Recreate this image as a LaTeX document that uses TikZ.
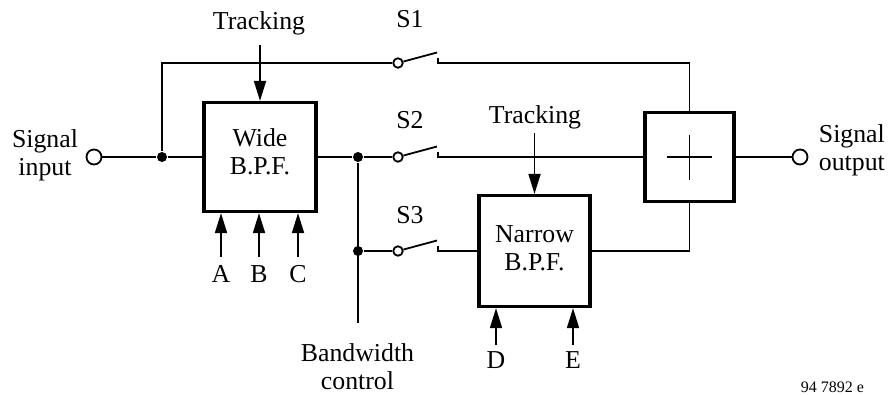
\documentclass[tikz,border=0pt]{standalone}
\usepackage{fontspec}
\setmainfont{Liberation Serif}
\usetikzlibrary{arrows.meta}
\usetikzlibrary{calc}

\begin{document}
\begin{tikzpicture}[x=1pt, y=-1pt, line width=1.8pt,
        txt/.style={inner sep=0pt, align=center, font=\fontsize{25.8}{28}\selectfont},
        blk/.style={draw, line width=3.2pt, inner sep=0pt},
        term/.style={circle, draw, fill=white, inner sep=0pt, minimum size=15pt},
        sw/.style={circle, draw, fill=white, inner sep=0pt, minimum size=9.5pt},
        junc/.style={circle, fill, inner sep=0pt, minimum size=10pt},
        arr/.style={-{Triangle[length=20pt, width=12pt]}}]
        \useasboundingbox(0,0) rectangle (890,394);
        \node[txt] (inlbl) at (45,155){Signal\\input};
        \node[term] (in) at (94,157){};
        \node[junc] (j1) at (162,157){};
        \node[blk, minimum width=112pt, minimum height=109pt] (wide) at (260,157){};
        \node[txt] (widetxt) at ($(wide)+(0,-5)$){Wide\\B.P.F.};
        \node[junc] (j2) at (358,157){};
        \node[junc] (j3) at (358,251){};
        \coordinate (bw) at (358,323);
        \node[txt] (bwlbl) at (357.5,367){Bandwidth\\control};
        \node[blk, minimum width=111pt, minimum height=111pt] (narrow) at (534.5,251){};
        \node[txt] (narrowtxt) at ($(narrow)+(0,-3)$){Narrow\\B.P.F.};
        \node[blk, minimum width=89pt, minimum height=89pt] (sum) at (689.5,157){};
        \node[term] (out) at (800,157){};
        \node[txt, anchor=west] (outlbl) at (818,150){Signal\\output};
        \foreach \s/\y/\b in {1/63/27, 2/157/128, 3/251/223}{
            \node[sw] (sw\s) at (398,\y){};
            \coordinate (b\s) at (437,\y-10.5);
            \coordinate (t\s) at (438,\y-5);
            \coordinate (c\s) at (438,\y);
            \draw(sw\s)--(b\s);
            \node[txt, anchor=base] (slbl\s) at (410,\b){S\s};
        }
        \draw(in)--(j1)--(wide.west);
        \draw(j1)|-(sw1);
        \draw(wide.east)--(j2)--(sw2);
        \draw(j2)--(bw);
        \draw(j3)--(sw3);
        \draw(t1)--(c1)-|(sum.north);
        \draw(t2)--(c2)--(sum.west);
        \draw(t3)--(c3)--(narrow.west);
        \draw(narrow.east)-|(sum.south);
        \draw(sum.east)--(out);
        \draw($(sum)+(-22.5,0)$)--($(sum)+(22.5,0)$);
        \draw($(sum)+(0,-22.5)$)--($(sum)+(0,22.5)$);
        \node[txt, anchor=base] (trk1) at (259,29){Tracking};
        \coordinate (trk1s) at ($(wide.north)+(0,-56)$);
        \draw[arr](trk1s)--(wide.north);
        \node[txt, anchor=base] (trk2) at (535,123){Tracking};
        \coordinate (trk2s) at ($(narrow.north)+(0,-61)$);
        \draw[arr](trk2s)--(narrow.north);
        \foreach \l/\x in {A/221, B/259, C/298}{
            \node[txt, anchor=base] (lbl\l) at (\x,282){\l};
            \coordinate (ar\l) at (\x,257);
            \draw[arr](ar\l)--(ar\l |- wide.south);
        }
        \foreach \l/\x in {D/496, E/573}{
            \node[txt, anchor=base] (lbl\l) at (\x,368){\l};
            \coordinate (ar\l) at (\x,345);
            \draw[arr](ar\l)--(ar\l |- narrow.south);
        }
        \node[anchor=base west, inner sep=0pt, font=\fontsize{16}{18}\selectfont] (code) at (800,392){94 7892 e};
    \end{tikzpicture}
\end{document}
